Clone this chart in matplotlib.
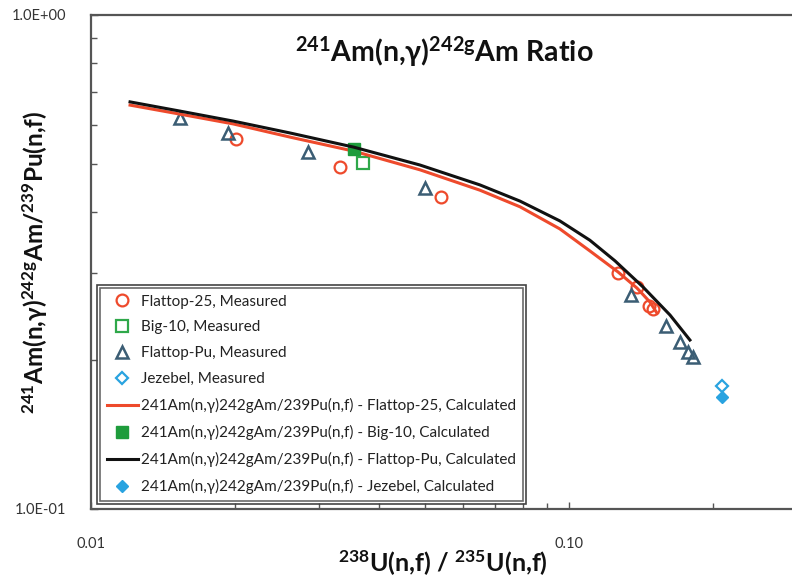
import matplotlib
matplotlib.use('Agg')
import matplotlib.pyplot as plt
from matplotlib.patches import Rectangle

plt.rcParams['font.family'] = ['Lato', 'DejaVu Sans']
plt.rcParams['mathtext.default'] = 'regular'

# measured ratios, 238U(n,f)/235U(n,f) vs 241Am(n,g)242gAm/239Pu(n,f)
ft25_x = [0.0201, 0.0332, 0.0540, 0.1266, 0.1388, 0.1470, 0.1499]
ft25_y = [0.561, 0.492, 0.428, 0.300, 0.281, 0.258, 0.254]
big10_x = [0.0371]
big10_y = [0.502]
ftpu_x = [0.01535, 0.01935, 0.02844, 0.0500, 0.1349, 0.1596, 0.1708, 0.1774, 0.1817]
ftpu_y = [0.619, 0.577, 0.528, 0.447, 0.271, 0.235, 0.218, 0.208, 0.203]
jez_x = [0.209]
jez_y = [0.1774]

# calculated values
calc_ft25_x = [0.01207, 0.01535, 0.01982, 0.02609, 0.0355, 0.04877, 0.0651, 0.0790,
               0.0957, 0.1106, 0.1266, 0.1388, 0.1477, 0.1528]
calc_ft25_y = [0.657, 0.630, 0.602, 0.566, 0.530, 0.486, 0.442, 0.409,
               0.369, 0.333, 0.302, 0.280, 0.2624, 0.2492]
calc_big10_x = [0.0355]
calc_big10_y = [0.535]
calc_ftpu_x = [0.01207, 0.01535, 0.01982, 0.02609, 0.0355, 0.04877, 0.0651, 0.0790,
               0.0957, 0.1106, 0.1248, 0.1429, 0.1627, 0.1791]
calc_ftpu_y = [0.667, 0.639, 0.610, 0.577, 0.540, 0.497, 0.453, 0.420,
               0.383, 0.350, 0.318, 0.2814, 0.247, 0.2198]
calc_jez_x = [0.209]
calc_jez_y = [0.1686]

red = '#ee4a2c'
green = '#2fa84a'
slate = '#3b5d74'
blue = '#29a3e0'

fig = plt.figure(figsize=(7.92, 5.82), dpi=100)
ax = fig.add_axes([91 / 792, 73 / 582, 706 / 792, 494 / 582])

ax.plot(ft25_x, ft25_y, 'o', ms=8.5, mfc='none', mec=red, mew=1.6,
        label='Flattop-25, Measured')
ax.plot(big10_x, big10_y, 's', ms=8.5, mfc='none', mec=green, mew=1.6,
        label='Big-10, Measured')
ax.plot(ftpu_x, ftpu_y, '^', ms=8.5, mfc='none', mec=slate, mew=1.8,
        label='Flattop-Pu, Measured')
ax.plot(jez_x, jez_y, 'D', ms=6.5, mfc='none', mec=blue, mew=1.6,
        label='Jezebel, Measured')
ax.plot(calc_ft25_x, calc_ft25_y, '-', color=red, lw=2.2, solid_joinstyle='round',
        label='241Am(n,γ)242gAm/239Pu(n,f) - Flattop-25, Calculated')
ax.plot(calc_big10_x, calc_big10_y, 's', ms=8.5, color='#1e9c3c',
        label='241Am(n,γ)242gAm/239Pu(n,f) - Big-10, Calculated')
ax.plot(calc_ftpu_x, calc_ftpu_y, '-', color='#111111', lw=2.2, solid_joinstyle='round',
        label='241Am(n,γ)242gAm/239Pu(n,f) - Flattop-Pu, Calculated')
ax.plot(calc_jez_x, calc_jez_y, 'D', ms=6.5, color=blue,
        label='241Am(n,γ)242gAm/239Pu(n,f) - Jezebel, Calculated')

ax.set_xscale('log')
ax.set_yscale('log')
ax.set_xlim(0.01, 0.3)
ax.set_ylim(0.1, 1.0)

ax.set_xticks([0.01, 0.1])
ax.set_xticklabels(['0.01', '0.10'])
ax.set_yticks([0.1, 1.0])
ax.set_yticklabels(['1.0E-01', '1.0E+00'])
ax.tick_params(which='both', direction='in', colors='#555555', labelcolor='#333333',
               labelsize=10.5, width=1.0)
ax.tick_params(which='major', length=5)
ax.tick_params(which='minor', length=4)
ax.tick_params(axis='x', which='major', pad=20)
ax.tick_params(axis='y', which='major', pad=18)
ax.yaxis.set_minor_formatter(plt.NullFormatter())
ax.xaxis.set_minor_formatter(plt.NullFormatter())

for side in ['left', 'top', 'bottom', 'right']:
    ax.spines[side].set_color('#555555')
    ax.spines[side].set_linewidth(1.6)

ax.text(0.50, 0.925, '$^{241}$Am(n,γ)$^{242g}$Am Ratio', transform=ax.transAxes,
        ha='center', va='center', fontsize=20.5, fontweight='bold', color='#111111')
fig.text(443 / 792, 1 - 563 / 582, '$^{238}$U(n,f) / $^{235}$U(n,f)', ha='center',
         va='center', fontsize=18, fontweight='bold', color='#111111')
fig.text(35 / 792, 1 - 262 / 582, '$^{241}$Am(n,γ)$^{242g}$Am/$^{239}$Pu(n,f)',
         ha='center', va='center', rotation=90, fontsize=17.5, fontweight='bold',
         color='#111111')

leg = ax.legend(loc='lower left', bbox_to_anchor=(0.013, 0.016), borderaxespad=0,
                fontsize=11, frameon=True, fancybox=False, edgecolor='#444444',
                handlelength=2.0, handletextpad=0.2, labelspacing=0.78,
                borderpad=0.45)
leg.get_frame().set_linewidth(1.2)
for t in leg.get_texts():
    t.set_color('#222222')

# second outline around the legend box
fig.canvas.draw()
bb = leg.get_window_extent().transformed(ax.transAxes.inverted())
dx = 3 / 706
dy = 3 / 494
ax.add_patch(Rectangle((bb.x0 - dx, bb.y0 - dy), bb.width + 2 * dx, bb.height + 2 * dy,
                       transform=ax.transAxes, fill=False, edgecolor='#444444',
                       lw=1.2, zorder=6, clip_on=False))

fig.savefig('out.png', dpi=100)
